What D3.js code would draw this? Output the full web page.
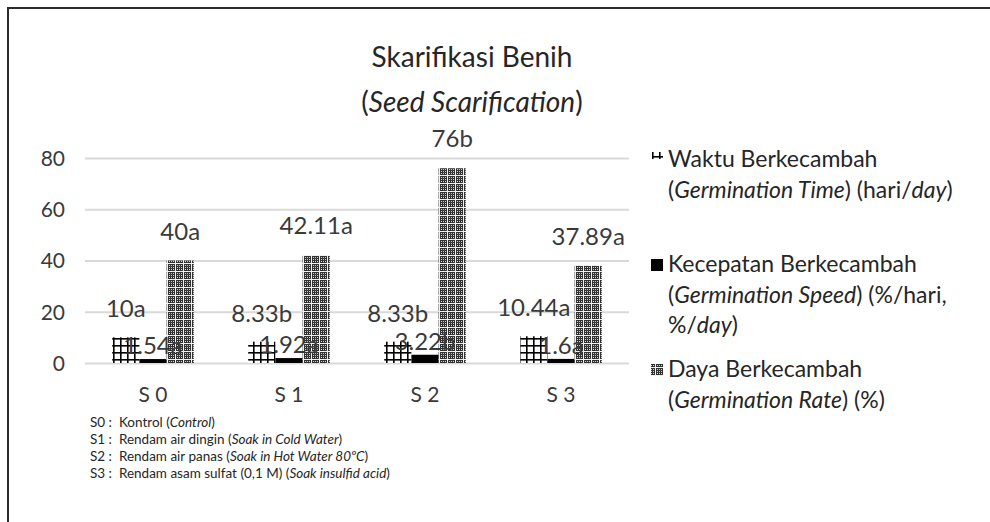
<!DOCTYPE html>
<html>
<head>
<meta charset="utf-8">
<script src="https://cdn.jsdelivr.net/npm/d3@7"></script>
<style>
  body { margin: 0; background: #fff; }
  svg text { font-family: Lato, "Open Sans", sans-serif; }
  .note { white-space: pre; }
</style>
</head>
<body>
<div id="chart"></div>
<script>

//////////
// DATA //
//////////

var categories = ['S 0', 'S 1', 'S 2', 'S 3'];

var seriesNames = ['waktu', 'kecepatan', 'daya'];

var waktuValues = [10, 8.33, 8.33, 10.44],
    kecepatanValues = [1.54, 1.92, 3.22, 1.6],
    dayaValues = [40, 42.11, 76, 37.89];

var waktuLabels = ['10a', '8.33b', '8.33b', '10.44a'],
    kecepatanLabels = ['1.54a', '1.92a', '3.22b', '1.6a'],
    dayaLabels = ['40a', '42.11a', '76b', '37.89a'];

var yTicks = [0, 20, 40, 60, 80];

var notes = [
    [['S0 :  Kontrol (', false], ['Control', true], [')', false]],
    [['S1 :  Rendam air dingin (', false], ['Soak in Cold Water', true], [')', false]],
    [['S2 :  Rendam air panas (', false], ['Soak in Hot Water 80ºC', true], [')', false]],
    [['S3 :  Rendam asam sulfat (0,1 M) (', false], ['Soak insulfid acid', true], [')', false]]
];

// legend lines, each a list of [text, italic] pieces
var legendEntries = [
    [
        [['Waktu Berkecambah', false]],
        [['(', false], ['Germination Time', true], [') (hari/', false], ['day', true], [')', false]]
    ],
    [
        [['Kecepatan Berkecambah', false]],
        [['(', false], ['Germination Speed', true], [') (%/hari,', false]],
        [['%/', false], ['day', true], [')', false]]
    ],
    [
        [['Daya Berkecambah', false]],
        [['(', false], ['Germination Rate', true], [') (%)', false]]
    ]
];

var series = [
    { key: 'waktu', values: waktuValues, labels: waktuLabels },
    { key: 'kecepatan', values: kecepatanValues, labels: kecepatanLabels },
    { key: 'daya', values: dayaValues, labels: dayaLabels }
];

////////////////
// DIMENSIONS //
////////////////

var w = 990,
    h = 522;

var plotLeft = 85,
    plotRight = 629,
    plotTop = 158,
    plotBottom = 363;

var textColor = '#3a3a3a',
    darkText = '#262626';

var svg = d3.select('#chart')
    .append('svg')
    .attr('width', w)
    .attr('height', h);

//////////////
// PATTERNS //
//////////////

var defs = svg.append('defs');

// large grid for germination time
var grid = defs.append('pattern')
    .attr('id', 'pat-waktu')
    .attr('patternUnits', 'userSpaceOnUse')
    .attr('width', 7)
    .attr('height', 7)
    .attr('x', 1)
    .attr('y', 2);
grid.append('rect').attr('width', 7).attr('height', 7).attr('fill', '#fff');
grid.append('rect').attr('x', 0).attr('y', 0).attr('width', 7).attr('height', 1.6).attr('fill', '#000');
grid.append('rect').attr('x', 0).attr('y', 0).attr('width', 1.6).attr('height', 7).attr('fill', '#000');

// dotted grid for germination rate
var dots = defs.append('pattern')
    .attr('id', 'pat-daya')
    .attr('patternUnits', 'userSpaceOnUse')
    .attr('width', 8)
    .attr('height', 8);
dots.append('rect').attr('width', 8).attr('height', 8).attr('fill', '#333');
[[1, 1], [3, 1], [5, 1], [1, 3], [5, 3], [1, 5], [3, 5], [5, 5], [3, 3]].forEach(function(p) {
    dots.append('rect')
        .attr('x', p[0]).attr('y', p[1])
        .attr('width', 1).attr('height', 1)
        .attr('fill', '#d0d0d0');
});
dots.append('rect').attr('x', 7).attr('y', 0).attr('width', 1).attr('height', 8).attr('fill', '#f0f0f0');
dots.append('rect').attr('x', 0).attr('y', 7).attr('width', 8).attr('height', 1).attr('fill', '#f0f0f0');

var fills = {
    waktu: 'url(#pat-waktu)',
    kecepatan: '#000',
    daya: 'url(#pat-daya)'
};

////////////
// BORDER //
////////////

svg.append('path')
    .attr('d', 'M8,' + h + 'V8H' + w)
    .attr('fill', 'none')
    .attr('stroke', '#2b2b2b')
    .attr('stroke-width', 2);

////////////
// SCALES //
////////////

var xScale = d3.scaleBand()
    .domain(categories)
    .range([plotLeft, plotRight])
    .paddingInner(0.4)
    .paddingOuter(0.2);

var xSub = d3.scaleBand()
    .domain(seriesNames)
    .range([0, xScale.bandwidth()]);

var yScale = d3.scaleLinear()
    .domain([0, 80])
    .range([plotBottom, plotTop]);

//////////
// AXIS //
//////////

var yAxis = d3.axisLeft(yScale)
    .tickValues(yTicks)
    .tickSize(-(plotRight - plotLeft))
    .tickPadding(20);

var yG = svg.append('g')
    .attr('class', 'axis')
    .attr('transform', 'translate(' + plotLeft + ',0)')
    .call(yAxis);

yG.select('.domain').remove();
yG.selectAll('line')
    .attr('stroke', '#d9d9d9')
    .attr('stroke-width', 2);
yG.selectAll('text')
    .attr('fill', textColor)
    .style('font-size', '21px')
    .attr('dy', '0.35em');

var xAxis = d3.axisBottom(xScale)
    .tickSize(0)
    .tickPadding(0);

var xG = svg.append('g')
    .attr('class', 'axis')
    .attr('transform', 'translate(0,' + plotBottom + ')')
    .call(xAxis);

xG.select('.domain').remove();
xG.selectAll('text')
    .attr('fill', textColor)
    .attr('y', 39)
    .attr('dy', 0)
    .style('font-size', '21px');

//////////
// BARS //
//////////

var points = [];
series.forEach(function(s) {
    s.values.forEach(function(v, i) {
        points.push({ key: s.key, cat: categories[i], value: v, label: s.labels[i] });
    });
});

svg.append('g')
    .attr('class', 'bars')
    .selectAll('rect')
    .data(points)
    .enter()
    .append('rect')
    .attr('x', function(d) { return xScale(d.cat) + xSub(d.key); })
    .attr('y', function(d) { return yScale(d.value); })
    .attr('width', xSub.bandwidth())
    .attr('height', function(d) { return yScale(0) - yScale(d.value); })
    .attr('fill', function(d) { return fills[d.key]; });

/////////////////
// DATA LABELS //
/////////////////

var labelGap = { waktu: 20, kecepatan: 5, daya: 21 };

svg.append('g')
    .attr('class', 'labels')
    .selectAll('text')
    .data(points)
    .enter()
    .append('text')
    .attr('x', function(d) { return xScale(d.cat) + xSub(d.key) + xSub.bandwidth() / 2; })
    .attr('y', function(d) { return yScale(d.value) - labelGap[d.key]; })
    .attr('text-anchor', 'middle')
    .attr('fill', textColor)
    .style('font-size', '24px')
    .text(function(d) { return d.label; });

///////////
// TITLE //
///////////

svg.append('text')
    .attr('x', 472)
    .attr('y', 67)
    .attr('text-anchor', 'middle')
    .attr('fill', darkText)
    .style('font-size', '28px')
    .text('Skarifikasi Benih');

var title2 = svg.append('text')
    .attr('x', 472)
    .attr('y', 112)
    .attr('text-anchor', 'middle')
    .attr('fill', darkText)
    .style('font-size', '28px');
title2.append('tspan').text('(');
title2.append('tspan').style('font-style', 'italic').text('Seed Scarification');
title2.append('tspan').text(')');

////////////
// LEGEND //
////////////

function richText(sel, pieces) {
    pieces.forEach(function(p) {
        sel.append('tspan')
            .style('font-style', p[1] ? 'italic' : 'normal')
            .text(p[0]);
    });
}

var legendX = 668,
    legendFirst = [167, 272, 377],
    legendLine = 30.5;

var legend = svg.append('g').attr('class', 'legend');

legendEntries.forEach(function(entry, i) {
    entry.forEach(function(line, j) {
        var t = legend.append('text')
            .attr('x', legendX)
            .attr('y', legendFirst[i] + j * legendLine)
            .attr('fill', darkText)
            .style('font-size', '23px');
        richText(t, line);
    });
});

// legend swatches
legend.append('rect')
    .attr('x', 652).attr('y', 152)
    .attr('width', 11).attr('height', 7)
    .attr('fill', fills.waktu);
legend.append('rect')
    .attr('x', 651).attr('y', 259)
    .attr('width', 12).attr('height', 12)
    .attr('fill', fills.kecepatan);
legend.append('rect')
    .attr('x', 651).attr('y', 364)
    .attr('width', 12).attr('height', 12)
    .attr('fill', fills.daya);

///////////
// NOTES //
///////////

svg.selectAll('.note')
    .data(notes)
    .enter()
    .append('text')
    .attr('class', 'note')
    .attr('x', 90)
    .attr('y', function(d, i) { return 427 + i * 17; })
    .attr('fill', darkText)
    .style('font-size', '13.5px')
    .each(function(d) { richText(d3.select(this), d); });

</script>
</body>
</html>
